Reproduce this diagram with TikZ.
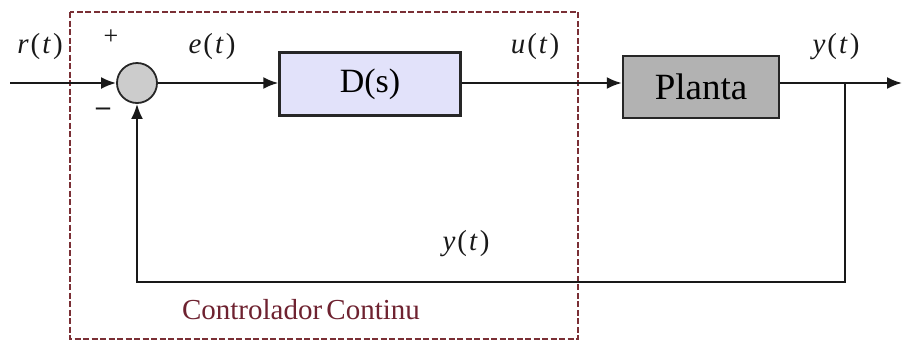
\documentclass[tikz,border=0pt]{standalone}
\usepackage{fontspec}
\setmainfont{Liberation Serif}
\usetikzlibrary{arrows.meta}
\definecolor{dred}{HTML}{7A2F35}
\definecolor{ctext}{HTML}{6E2230}
\definecolor{lav}{HTML}{E2E2FA}
\definecolor{pgray}{HTML}{B2B2B2}
\definecolor{sgray}{HTML}{CCCCCC}
\newcommand{\sig}[1]{\fontsize{29}{29}\selectfont\textit{#1}\kern2pt(\kern2pt\textit{t}\kern2pt)}
\begin{document}
\begin{tikzpicture}[x=1pt,y=-1pt,
  wire/.style={line width=2.2pt,draw=black!90},
  arr/.style={wire,-{Latex[length=15pt,width=12pt]}},
  blk/.style={draw=black!85,line width=2.4pt,inner sep=0pt},
  lbl/.style={inner sep=0pt,text=black!90}]
\useasboundingbox (0,0) rectangle (902,341);
\draw[dred,line width=1.5pt,dash pattern=on 6pt off 2.5pt] (70,12) rectangle (578,339);
\node[circle,draw=black!85,fill=sgray,line width=1.8pt,minimum size=40pt,inner sep=0pt] (S) at (137,83) {};
\node[blk,fill=lav,minimum width=181pt,minimum height=63pt,font=\fontsize{34}{34}\selectfont] (D) at (370,84) {D(s)};
\node[blk,fill=pgray,minimum width=156pt,minimum height=62pt,font=\fontsize{37}{37}\selectfont] (P) at (701,87) {Planta};
\coordinate (in) at (10,83);
\coordinate (tap) at (845,83);
\coordinate (out) at (902,83);
\coordinate (corner) at (845,282);
\draw[arr] (in) -- (S.west);
\draw[arr] (S.east) -- (D.west |- S.east);
\draw[arr] (D.east |- S.east) -- (P.west |- S.east);
\draw[wire] (P.east |- S.east) -- (tap);
\draw[arr] (tap) -- (out);
\draw[arr] (tap) -- (corner) -| (S.south);
\node[lbl] (lr) at (40,47) {\sig{r}};
\node[lbl] (le) at (212,47) {\sig{e}};
\node[lbl] (lu) at (535,47) {\sig{u}};
\node[lbl] (ly) at (836,47) {\sig{y}};
\node[lbl] (ly2) at (466,244) {\sig{y}};
\node[lbl,font=\fontsize{26}{26}\selectfont] (plus) at (111,37) {+};
\node[lbl,font=\fontsize{28}{28}\selectfont\bfseries] (minus) at (103,112) {–};
\node[inner sep=0pt,text=ctext,font=\fontsize{29}{29}\selectfont] (ctl) at (301,310) {Controlador\kern-3pt\ Continu};
\end{tikzpicture}
\end{document}
